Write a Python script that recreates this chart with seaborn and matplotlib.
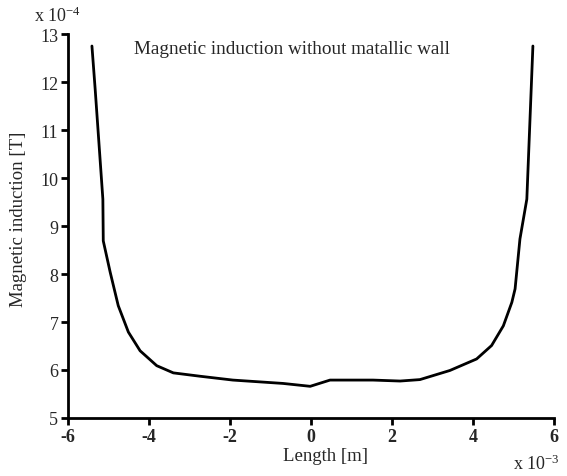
import matplotlib
matplotlib.use("Agg")
import matplotlib.pyplot as plt
import seaborn as sns
import pandas as pd

# values: length in units of 1e-3 m, induction in units of 1e-4 T
length_mm = [-5.41, -5.33, -5.14, -5.13, -4.96, -4.76, -4.51, -4.22, -3.81, -3.40,
             -2.74, -1.93, -0.69, -0.02, 0.47, 1.53, 2.20, 2.69, 3.43, 4.09,
             4.46, 4.75, 4.96, 5.04, 5.16, 5.33, 5.48]
induction = [12.75, 11.85, 9.56, 8.69, 8.04, 7.34, 6.79, 6.40, 6.09, 5.94,
             5.87, 5.79, 5.72, 5.66, 5.79, 5.79, 5.77, 5.80, 5.99, 6.23,
             6.51, 6.92, 7.41, 7.69, 8.73, 9.56, 12.75]
x_ticks = [-6, -4, -2, 0, 2, 4, 6]
y_ticks = [5, 6, 7, 8, 9, 10, 11, 12, 13]

df = pd.DataFrame({"Length": length_mm, "B": induction})

sns.set_style("ticks")
plt.rcParams["font.family"] = ["Liberation Serif", "DejaVu Serif"]
plt.rcParams["mathtext.fontset"] = "stix"

fig = plt.figure(figsize=(5.67, 4.77), dpi=100)
ax = fig.add_axes([0.12, 0.1216, 0.857, 0.805])

sns.lineplot(data=df, x="Length", y="B", color="black", linewidth=2,
             estimator=None, sort=False, ax=ax)

ax.set_xlim(-6, 6)
ax.set_ylim(5, 13)
ax.set_xticks(x_ticks)
ax.set_yticks(y_ticks)
ax.set_xticklabels([str(t) for t in x_ticks], fontsize=13, fontweight="bold")
ax.set_yticklabels([str(t) for t in y_ticks], fontsize=13)
ax.tick_params(direction="out", length=5, width=2, color="black", pad=2)
for s in ["left", "bottom"]:
    ax.spines[s].set_linewidth(2)
    ax.spines[s].set_color("black")
sns.despine(ax=ax)

ax.set_xlabel("Length [m]", fontsize=13.5)
ax.set_ylabel("Magnetic induction [T]", fontsize=13.5)
ax.xaxis.set_label_coords(0.53, -0.075)
ax.yaxis.set_label_coords(-0.085, 0.52)

ax.text(0.46, 0.985, "Magnetic induction without matallic wall", transform=ax.transAxes,
        ha="center", va="top", fontsize=13.8)
fig.text(0.06, 0.965, r"x 10$^{\mathregular{-4}}$", fontsize=13, ha="left", va="center")
fig.text(0.905, 0.027, r"x 10$^{\mathregular{-3}}$", fontsize=13, ha="left", va="center")

fig.savefig("out.png", dpi=100)
